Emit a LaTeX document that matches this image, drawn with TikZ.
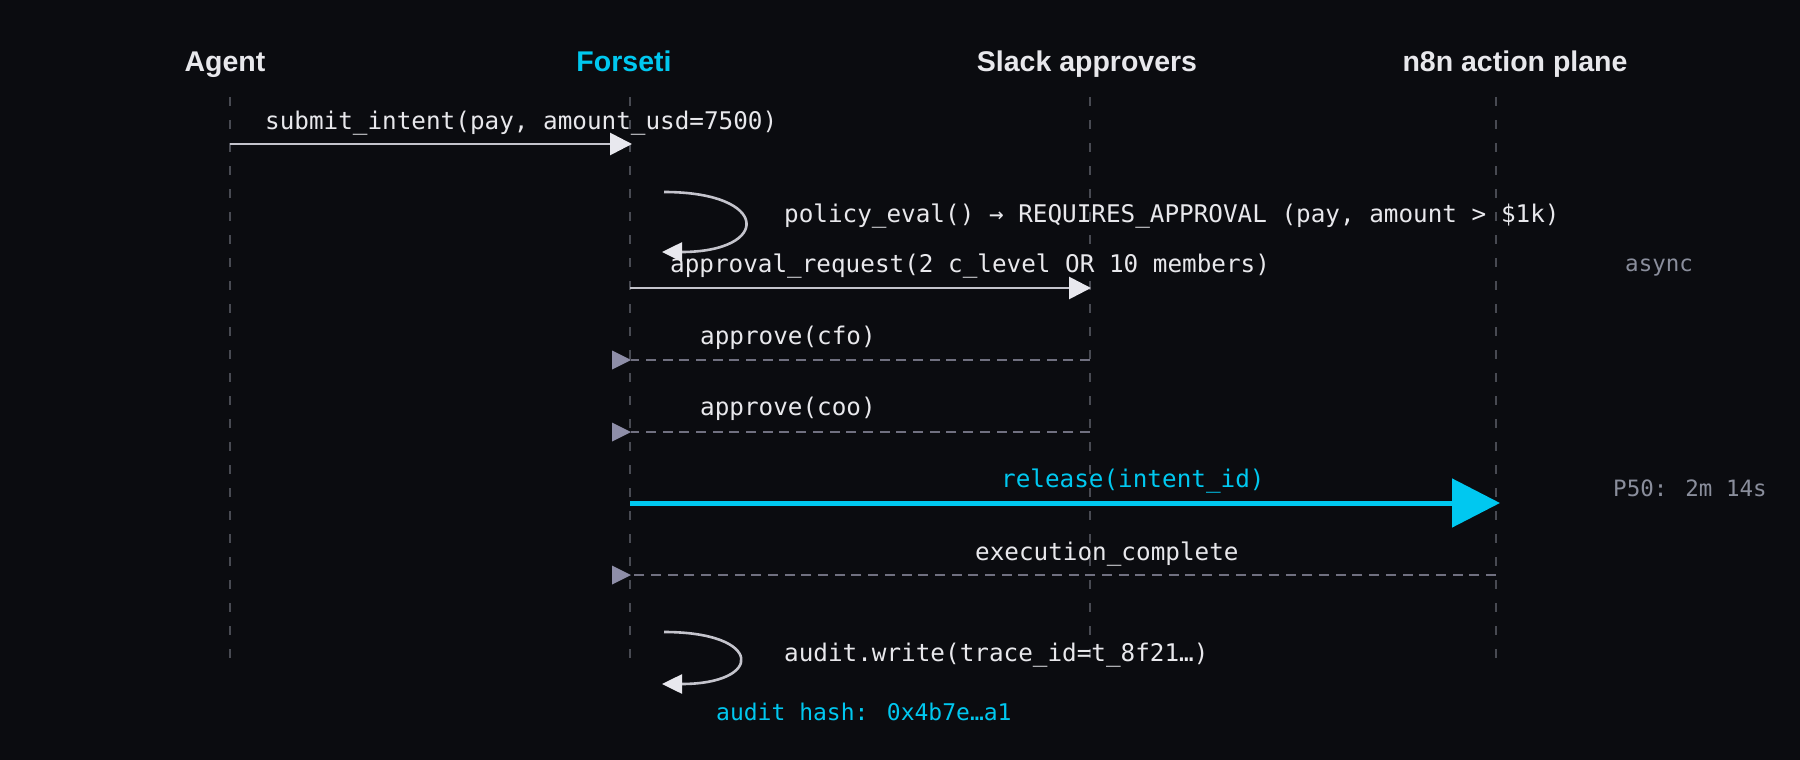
\documentclass[tikz,border=0pt]{standalone}
\usepackage{fontspec}
\setmainfont{Liberation Sans}
\newfontfamily\sqmono{DejaVu Sans Mono}
\usetikzlibrary{arrows.meta}
\definecolor{sqbg}{RGB}{11,12,16}
\definecolor{sqtext}{RGB}{232,232,236}
\definecolor{sqcyan}{RGB}{0,200,240}
\definecolor{sqlinec}{RGB}{72,74,82}
\definecolor{sqarrowc}{RGB}{196,196,204}
\definecolor{sqtipc}{RGB}{232,232,238}
\definecolor{sqretc}{RGB}{112,112,128}
\definecolor{sqrettip}{RGB}{142,142,168}
\definecolor{sqnotec}{RGB}{138,142,156}
\def\sqRetMark#1{\fill[sqrettip] (#1) -- ++(-19,-9.5) -- ++(0,19) -- cycle;}

\begin{document}
\begin{tikzpicture}[
    x=1pt, y=-1pt,
    sqhead/.style = {font=\fontsize{28.5}{34}\selectfont\bfseries, text=sqtext, inner sep=0pt, anchor=base},
    sqlife/.style = {sqlinec, line width=1.4pt, dash pattern=on 9pt off 14pt},
    sqmsg/.style  = {font=\sqmono\fontsize{24.3}{28}\selectfont, text=sqtext, inner sep=0pt, anchor=base west},
    sqnote/.style = {font=\sqmono\fontsize{22.5}{26}\selectfont, text=sqnotec, inner sep=0pt, anchor=base west},
    sqcall/.style = {sqarrowc, line width=2.8pt, -{Triangle[length=22pt,width=22pt,color=sqtipc]}},
    sqself/.style = {sqarrowc, line width=2.6pt, -{Triangle[length=20pt,width=19pt,color=sqtipc]}},
    sqret/.style  = {sqretc, line width=2pt, dash pattern=on 10pt off 6.7pt},
    sqrel/.style  = {sqcyan, line width=5pt, -{Triangle[length=48pt,width=48pt]}}]

  \fill[sqbg] (0,0) rectangle (1800,760);
  \useasboundingbox (0,0) rectangle (1800,760);

  %% ---- participants ----------------------------------------------
  \node[sqhead] (agent) at (225,72) {Agent};
  \node[sqhead, text=sqcyan] (forseti) at (624,72) {Forseti};
  \node[sqhead] (slack) at (1087,72) {Slack approvers};
  \node[sqhead] (neen) at (1515,72) {n8n action plane};

  \foreach \n/\x in {ag/230, fo/630, sl/1090, ne/1496} {
    \coordinate (\n-top) at (\x,97);
    \coordinate (\n-bot) at (\x,658);
    \draw[sqlife] (\n-top) -- (\n-bot);
  }

  %% ---- submit ------------------------------------------------------
  \coordinate (m1s) at (230,144);
  \coordinate (m1e) at (632,144);
  \node[sqmsg] (m1lbl) at (265,129) {submit\_intent(pay, amount\_usd=7500)};
  \draw[sqcall] (m1s) -- (m1e);

  %% ---- policy check (self) -----------------------------------------
  \coordinate (s1a) at (664,192);
  \coordinate (s1b) at (662,252);
  \draw[sqself] (s1a) .. controls (771,192) and (771,252) .. (s1b);
  \node[sqmsg] (s1lbl) at (784,222) {policy\_eval() → REQUIRES\_APPROVAL (pay, amount > \$1k)};

  %% ---- approval round ----------------------------------------------
  \coordinate (m2s) at (630,288);
  \coordinate (m2e) at (1091,288);
  \node[sqmsg] (m2lbl) at (670,272) {approval\_request(2 c\_level OR 10 members)};
  \draw[sqcall] (m2s) -- (m2e);
  \node[sqnote] (async) at (1625,271) {async};

  \coordinate (r1s) at (1090,360);
  \coordinate (r1e) at (631,360);
  \node[sqmsg] (r1lbl) at (700,344) {approve(cfo)};
  \draw[sqret] (r1s) -- (r1e);
  \sqRetMark{r1e}

  \coordinate (r2s) at (1090,432);
  \coordinate (r2e) at (631,432);
  \node[sqmsg] (r2lbl) at (700,415) {approve(coo)};
  \draw[sqret] (r2s) -- (r2e);
  \sqRetMark{r2e}

  %% ---- release -----------------------------------------------------
  \coordinate (m3s) at (630,503);
  \coordinate (m3e) at (1500,503);
  \node[sqmsg, text=sqcyan] (m3lbl) at (1001,487) {release(intent\_id)};
  \draw[sqrel] (m3s) -- (m3e);
  \node[sqnote] (p50) at (1613,496) {P50: 2m 14s};

  \coordinate (r3s) at (1496,575);
  \coordinate (r3e) at (631,575);
  \node[sqmsg] (r3lbl) at (975,560) {execution\_complete};
  \draw[sqret] (r3s) -- (r3e);
  \sqRetMark{r3e}

  %% ---- audit (self) ------------------------------------------------
  \coordinate (s2a) at (664,632);
  \coordinate (s2b) at (662,684);
  \draw[sqself] (s2a) .. controls (764,632) and (764,684) .. (s2b);
  \node[sqmsg] (s2lbl) at (784,661) {audit.write(trace\_id=t\_8f21…)};
  \node[sqmsg, text=sqcyan, font=\sqmono\fontsize{23}{27}\selectfont] (hash) at (716,720) {audit hash: 0x4b7e…a1};
\end{tikzpicture}
\end{document}
